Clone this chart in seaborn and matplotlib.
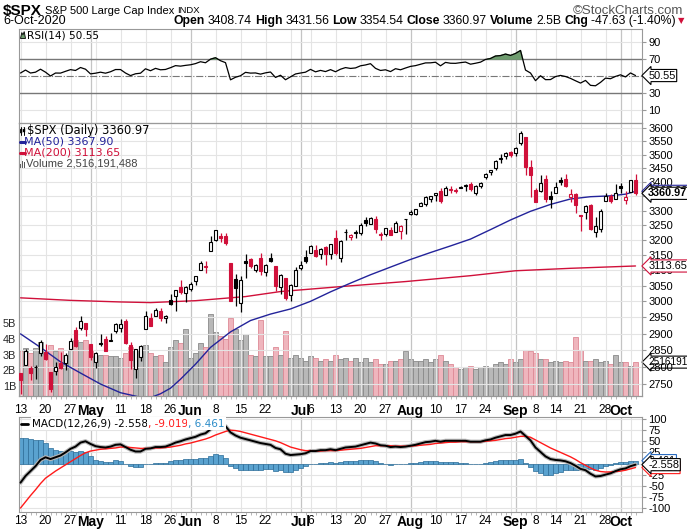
import numpy as np
import pandas as pd
import matplotlib
matplotlib.use("Agg")
import matplotlib.pyplot as plt
import seaborn as sns
from matplotlib import font_manager
from matplotlib.lines import Line2D
from matplotlib.patches import Polygon, Rectangle
from matplotlib.ticker import NullLocator, FixedLocator, FixedFormatter

sns.set_theme(style="white")
plt.rcParams['font.family'] = ['Liberation Sans', 'DejaVu Sans']

try:
    font_manager.findfont('Liberation Sans Narrow', fallback_to_default=False)
    NARROW = ['Liberation Sans Narrow', 'Liberation Sans']
    HAS_NARROW = True
except Exception:
    NARROW = ['Liberation Sans', 'DejaVu Sans']
    HAS_NARROW = False

# ---------------- data ----------------
prev_close = 2789.82
opens = [2782.46, 2805.10, 2795.64, 2799.34, 2842.43, 2845.62, 2784.81, 2787.89, 2810.42, 2812.64, 2854.65, 2909.96, 2918.46, 2930.91,
         2869.09, 2815.01, 2868.88, 2883.14, 2878.26, 2908.83, 2915.46, 2939.50, 2865.86, 2794.54, 2829.95, 2913.86, 2948.59, 2953.63, 2969.95, 2948.05, 3004.08, 3015.65, 3046.61, 3025.17,
         3038.78, 3064.78, 3098.90, 3111.56, 3163.84, 3199.92, 3213.32, 3213.42, 3123.53, 3071.04, 2993.76, 3131.00, 3136.13, 3101.64, 3140.29, 3094.42, 3138.70, 3114.40, 3046.60, 3073.20, 3018.59, 3050.20,
         3105.92, 3143.64, 3155.29, 3166.44, 3153.07, 3176.17, 3152.47, 3205.08, 3141.11, 3225.98, 3208.36, 3224.21, 3224.29, 3268.52, 3254.86, 3271.64, 3218.58, 3219.84, 3234.27, 3227.22, 3231.76, 3270.45,
         3288.26, 3289.92, 3317.37, 3323.17, 3340.05, 3356.04, 3370.34, 3355.46, 3372.95, 3368.66, 3380.86, 3387.04, 3392.51, 3360.48, 3386.01, 3418.09, 3435.95, 3449.97, 3485.14, 3494.69, 3509.73,
         3507.44, 3543.76, 3564.74, 3453.60, 3371.88, 3369.82, 3412.56, 3352.70, 3363.56, 3407.73, 3411.23, 3346.86, 3357.38, 3285.57, 3295.75, 3320.11, 3226.14, 3236.66, 3333.90, 3350.92, 3341.21,
         3385.87, 3338.94, 3367.27, 3408.74]
highs = [2782.46, 2851.85, 2801.88, 2806.51, 2879.22, 2868.98, 2785.54, 2815.10, 2844.90, 2842.71, 2887.72, 2921.15, 2954.86, 2930.91,
         2869.09, 2844.24, 2898.23, 2891.11, 2901.92, 2932.16, 2944.25, 2945.82, 2874.14, 2852.80, 2865.01, 2968.09, 2964.21, 2980.29, 2978.50, 2956.76, 3021.72, 3036.25, 3068.67, 3049.17,
         3062.18, 3081.07, 3130.94, 3128.91, 3211.72, 3233.13, 3222.71, 3223.27, 3123.53, 3088.42, 3079.76, 3153.45, 3141.16, 3120.00, 3155.53, 3120.92, 3154.90, 3115.01, 3086.25, 3073.73, 3053.89, 3111.51,
         3128.44, 3165.81, 3182.59, 3184.15, 3171.80, 3179.78, 3186.82, 3235.32, 3200.95, 3238.28, 3220.39, 3233.52, 3258.61, 3277.29, 3279.32, 3279.99, 3227.26, 3241.43, 3243.72, 3264.74, 3250.92, 3272.17,
         3302.73, 3306.84, 3330.77, 3351.03, 3352.54, 3363.29, 3381.01, 3387.89, 3387.24, 3378.51, 3387.59, 3395.06, 3399.54, 3390.80, 3399.96, 3432.09, 3444.21, 3481.07, 3501.38, 3509.23, 3514.77,
         3528.03, 3588.11, 3564.85, 3479.15, 3379.97, 3424.77, 3425.55, 3368.95, 3402.93, 3419.48, 3428.92, 3375.17, 3362.27, 3285.57, 3320.31, 3323.35, 3278.70, 3306.88, 3360.74, 3357.92, 3393.56,
         3397.18, 3369.10, 3409.57, 3431.56]
lows = [2721.17, 2805.10, 2761.54, 2764.32, 2830.88, 2820.43, 2727.10, 2775.95, 2794.26, 2791.76, 2852.89, 2860.71, 2912.16, 2892.47,
        2821.61, 2797.85, 2863.55, 2847.65, 2876.48, 2902.88, 2903.44, 2869.59, 2793.15, 2766.64, 2816.78, 2913.86, 2922.35, 2953.63, 2938.57, 2933.59, 2988.17, 2969.75, 3023.40, 2998.61,
        3031.54, 3051.64, 3098.90, 3090.41, 3163.84, 3196.00, 3193.11, 3181.49, 2999.49, 2984.47, 2965.66, 3076.06, 3108.03, 3093.51, 3083.11, 3079.39, 3127.12, 3032.13, 3024.01, 3004.63, 2999.74, 3047.83,
        3101.17, 3124.52, 3155.29, 3142.93, 3136.53, 3115.70, 3136.22, 3149.43, 3127.66, 3200.76, 3198.59, 3205.65, 3215.16, 3247.77, 3253.10, 3222.66, 3200.05, 3214.25, 3216.17, 3227.22, 3204.13, 3220.26,
        3284.53, 3286.37, 3317.37, 3318.14, 3328.72, 3335.44, 3326.44, 3355.46, 3363.35, 3361.64, 3379.22, 3370.15, 3369.66, 3354.69, 3379.31, 3413.13, 3425.84, 3444.15, 3468.35, 3484.32, 3493.25,
        3494.60, 3535.23, 3427.41, 3349.63, 3329.27, 3366.84, 3329.25, 3310.47, 3363.56, 3389.25, 3384.45, 3328.82, 3292.40, 3229.10, 3270.95, 3232.57, 3209.45, 3228.44, 3332.91, 3327.54, 3340.47,
        3361.39, 3323.69, 3367.27, 3354.54]
closes = [2761.63, 2846.06, 2783.36, 2799.55, 2874.56, 2823.16, 2736.56, 2799.31, 2797.80, 2836.74, 2878.48, 2863.39, 2939.51, 2912.43,
          2830.71, 2842.74, 2868.44, 2848.42, 2881.19, 2929.80, 2930.32, 2870.12, 2820.00, 2852.50, 2863.70, 2953.91, 2922.94, 2971.61, 2948.51, 2955.45, 2991.77, 3036.13, 3029.73, 3044.31,
          3055.73, 3080.82, 3122.87, 3112.35, 3193.93, 3232.39, 3207.18, 3190.14, 3002.10, 3041.31, 3066.59, 3124.74, 3113.49, 3115.34, 3097.74, 3117.86, 3131.29, 3050.33, 3083.76, 3009.05, 3053.24, 3100.29,
          3115.86, 3130.01, 3179.72, 3145.32, 3169.94, 3152.05, 3185.04, 3155.22, 3197.52, 3226.56, 3215.57, 3224.73, 3251.84, 3257.30, 3276.02, 3235.66, 3215.63, 3239.41, 3218.44, 3258.44, 3246.22, 3271.12,
          3294.61, 3306.51, 3327.77, 3349.16, 3351.28, 3360.47, 3333.69, 3380.35, 3373.43, 3372.85, 3381.99, 3389.78, 3374.85, 3385.51, 3397.16, 3431.28, 3443.62, 3478.73, 3484.55, 3508.01, 3500.31,
          3526.65, 3580.84, 3455.06, 3426.96, 3331.84, 3398.96, 3339.19, 3340.97, 3383.54, 3401.20, 3385.49, 3357.01, 3319.47, 3281.06, 3315.57, 3236.92, 3246.59, 3298.46, 3351.60, 3335.47, 3363.00,
          3380.80, 3348.42, 3408.63, 3360.97]
volume_b = [3.2, 3.4, 3.1, 3.4, 3.8, 3.0, 3.6, 3.2, 3.4, 3.0, 3.3, 3.9, 3.8, 3.9,
            3.3, 2.9, 3.0, 3.0, 2.9, 2.9, 2.8, 3.1, 3.5, 3.3, 3.1, 3.6, 3.1, 2.9, 3.0, 2.5, 3.5, 3.9, 3.7, 4.6,
            2.8, 3.1, 3.7, 3.5, 5.6, 4.4, 4.2, 4.0, 5.3, 4.6, 3.9, 4.3, 3.0, 2.9, 5.2, 2.9, 2.9, 3.5, 3.0, 4.5, 2.8, 3.0,
            2.8, 2.6, 2.9, 2.8, 2.6, 2.7, 2.6, 3.0, 2.7, 2.8, 2.6, 2.8, 2.5, 2.8, 2.5, 2.7, 2.4, 2.4, 2.6, 2.6, 2.7, 3.2,
            2.7, 2.6, 2.6, 2.7, 2.5, 2.7, 3.0, 2.6, 2.4, 2.2, 2.1, 2.2, 2.3, 2.1, 2.2, 2.3, 2.2, 2.4, 2.5, 2.4, 2.7,
            2.5, 2.7, 3.3, 3.2, 3.1, 2.7, 2.7, 2.5, 2.6, 2.5, 2.6, 2.5, 4.1, 3.3, 2.6, 2.6, 2.7, 2.5, 2.6, 2.4, 3.0,
            2.5, 2.5, 2.3, 2.516]
ma50_pos = [0, 4, 8, 12, 16, 20, 24, 26, 28, 30, 32, 35, 38, 42, 46, 50, 54, 58, 62, 66, 70, 74, 78, 82, 86, 90, 94, 98, 102, 106, 110, 114, 118, 121, 123]
ma50_val = [2899, 2858, 2815, 2782, 2750, 2725, 2712, 2711, 2722, 2738, 2764, 2808, 2858, 2905, 2940, 2960, 2976, 3000, 3030, 3058,
            3085, 3110, 3135, 3158, 3180, 3203, 3235, 3268, 3298, 3322, 3341, 3349, 3352, 3358, 3367.90]
ma200_pos = [0, 10, 20, 26, 35, 45, 52, 65, 77, 90, 99, 110, 123]
ma200_val = [3011, 3003, 2998, 2996, 3002, 3015, 3031, 3048, 3063, 3082, 3098, 3106, 3113.65]
rsi = [53.5, 57, 53.5, 54.5, 58, 54.5, 50, 53.5, 53.4, 55.5, 57.5, 56.5, 60, 58,
       52.5, 53.3, 54.5, 53.3, 55, 57.6, 57.6, 53.5, 50.5, 52.6, 53.3, 58.5, 56.2, 59, 57.3, 57.7, 59.8, 62.2, 61.6, 62.5,
       63.2, 64.6, 66.8, 65.6, 69.8, 71.5, 68, 65.7, 45.5, 48.5, 50.3, 54.3, 53.4, 53.6, 52.2, 53.7, 54.7, 48.3, 50.9, 45.6, 49, 52.4,
       53.5, 54.5, 57.8, 54.9, 56.6, 55.2, 57.5, 55, 58, 59.9, 58.9, 59.5, 62, 63, 64.5, 59, 56.5, 57.3, 55.2, 58.6, 57.3, 59.4,
       61.3, 62.2, 63.8, 65.4, 65.5, 66.2, 62, 66, 65, 64.9, 65.7, 66.4, 63.9, 65, 66.3, 69.5, 70.6, 73.5, 74, 75.8, 74.2,
       76.5, 80, 57, 53.5, 44.5, 50.3, 45.7, 45.8, 49.3, 50.7, 49.4, 47.2, 44.4, 41.7, 44.8, 39, 38.5, 42.5, 47.5, 46.8, 49.5,
       51.4, 48.9, 53.6, 50.55]
macd = [-43, -28, -17, -6, 8, 14, 10, 14, 18, 25, 33, 38, 47, 50,
        44, 39, 37, 36, 38, 42, 43, 37, 31, 27, 27, 33, 34, 37, 37, 38, 42, 47, 50, 54,
        57, 60, 65, 68, 77, 85, 87, 84, 70, 63, 58, 55, 52, 49, 46, 44, 42, 35, 32, 22, 19, 20,
        21, 23, 28, 28, 30, 30, 32, 30, 33, 36, 37, 38, 41, 44, 47, 45, 41, 40, 37, 38, 37, 38,
        40, 42, 45, 48, 49, 51, 49, 51, 51, 51, 51, 51, 49, 49, 49, 52, 54, 58, 61, 64, 64,
        67, 72, 62, 52, 36, 26, 16, 10, 8, 7, 5, 1, -5, -12, -15, -23, -29, -28, -25, -22, -17,
        -13, -11, -6, -2.558]
signal = [-100, -86, -72, -59, -45, -33, -25, -17, -10, -3, 4, 11, 18, 24,
          28, 30, 32, 33, 34, 35, 37, 37, 36, 35, 34, 34, 34, 35, 35, 36, 37, 39, 41, 44,
          46, 49, 52, 55, 59, 64, 68, 72, 75, 74, 72, 69, 66, 63, 60, 57, 54, 51, 47, 42, 37, 34,
          31, 29, 29, 28, 28, 29, 29, 29, 30, 31, 32, 33, 34, 36, 38, 40, 40, 40, 40, 39, 39, 39,
          39, 40, 41, 42, 43, 45, 46, 47, 48, 48, 49, 49, 49, 49, 49, 50, 51, 52, 54, 56, 57,
          59, 61, 61, 59, 53, 47, 41, 35, 30, 25, 20, 15, 9, 2, -4, -10, -15, -18, -19, -19, -18,
          -17, -15, -12, -9.019]
hist = [57, 58, 55, 53, 53, 47, 35, 31, 28, 28, 29, 27, 29, 26,
        16, 9, 5, 3, 4, 7, 6, 0, -5, -8, -7, -1, 0, 2, 2, 2, 5, 8, 9, 10,
        11, 11, 13, 13, 18, 21, 19, 12, -5, -11, -14, -14, -14, -14, -14, -13, -12, -16, -15, -20, -18, -14,
        -10, -6, -1, 0, 2, 1, 3, 1, 3, 5, 5, 5, 7, 8, 9, 5, 1, 0, -3, -1, -2, -1,
        1, 2, 4, 6, 6, 6, 3, 4, 3, 3, 2, 2, 0, 0, 0, 2, 3, 6, 7, 8, 7,
        8, 11, 1, -7, -17, -21, -25, -25, -22, -18, -15, -14, -14, -14, -11, -13, -14, -10, -6, -3, 1,
        4, 4, 6, 6.461]
tick_pos = [0, 5, 10, 14, 20, 25, 30, 34, 39, 44, 49, 56, 58, 63, 68, 73, 78, 83, 88, 93, 99, 103, 107, 112, 117, 120]
tick_lab = ['13', '20', '27', 'May', '11', '18', '26', 'Jun', '8', '15', '22', 'Jul', '6', '13', '20', '27',
            'Aug', '10', '17', '24', 'Sep', '8', '14', '21', '28', 'Oct']
week_lines = [0, 5, 10, 15, 20, 25, 30, 39, 44, 49, 54, 58, 63, 68, 73, 83, 88, 93, 98, 103, 107, 112, 117, 122]
month_lines = [14, 34, 56, 78, 99, 120]

# ---------------- layout ----------------
W, H = 687, 529
fig = plt.figure(figsize=(W / 100, H / 100), dpi=100)
fig.patch.set_facecolor('white')


def rect(l, t, r, b):
    return [l / W, 1 - b / H, (r - l) / W, (b - t) / H]


ax_rsi = fig.add_axes(rect(19, 29, 642, 123))
ax_main = fig.add_axes(rect(19, 123, 642, 396))
ax_vol = ax_main.twinx()
ax_main.set_zorder(ax_vol.get_zorder() + 1)
ax_main.patch.set_visible(False)
ax_macd = fig.add_axes(rect(19, 417, 642, 512))

n = len(closes)
idx = np.arange(n)
XL = (-0.3, 124.3)
RED = '#d0103a'
BLUE = '#23239a'
GRID = '#e4e4e4'
MGRID = '#c4c4c4'
SPINE = '#999999'

df = pd.DataFrame({'i': idx, 'rsi': rsi, 'macd': macd, 'signal': signal, 'hist': hist,
                   'vol': np.array(volume_b) * 1e9})
prevs = np.array([prev_close] + closes[:-1])
up = np.array(closes) >= prevs

for ax in (ax_rsi, ax_main, ax_macd, ax_vol):
    ax.set_xlim(*XL)
    for s in ax.spines.values():
        s.set_color(SPINE)
        s.set_linewidth(0.8)

for ax in (ax_rsi, ax_main, ax_macd):
    for p in week_lines:
        ax.axvline(p, color=GRID, lw=0.8, zorder=0)
    for p in month_lines:
        ax.axvline(p, color=MGRID, lw=0.9, zorder=0)

# ---------------- RSI ----------------
ax_rsi.set_ylim(-5.3, 105.3)
for v in (10, 90):
    ax_rsi.axhline(v, color=GRID, lw=0.8, zorder=0)
ax_rsi.axhline(70, color='#777777', lw=1.0, zorder=1)
ax_rsi.axhline(30, color='#777777', lw=1.0, zorder=1)
ax_rsi.axhline(50, color='#777777', lw=0.8, ls='-.', zorder=1)
r = np.array(rsi)
ax_rsi.fill_between(idx, r, 70, where=r > 70, interpolate=True, color='#6e9c6e', zorder=2)
sns.lineplot(data=df, x='i', y='rsi', ax=ax_rsi, color='black', lw=0.9, zorder=3)
ax_rsi.yaxis.tick_right()
ax_rsi.set_yticks([10, 30, 70, 90])
ax_rsi.set_yticklabels(['10', '30', '70', '90'])
ax_rsi.set_xticks([])

# ---------------- main ----------------
ax_main.set_yscale('log')
ax_main.set_ylim(2715.6, 3619)
pticks = list(range(2750, 3601, 50))
ax_main.yaxis.set_major_locator(FixedLocator(pticks))
ax_main.yaxis.set_major_formatter(FixedFormatter([str(p) for p in pticks]))
ax_main.yaxis.set_minor_locator(NullLocator())
for p in pticks:
    ax_main.axhline(p, color=GRID, lw=0.8, zorder=0)
ax_main.yaxis.tick_right()

# volume
ax_vol.set_ylim(0.365e9, 17.7e9)
vcol = np.where(up, '#b8b8b8', '#efb5bd')
vedge = np.where(up, '#8a8a8a', '#dd8a96')
ax_vol.bar(idx, df['vol'], width=0.82, color=vcol, edgecolor=vedge, linewidth=0.6, zorder=1)
ax_vol.yaxis.tick_left()
ax_vol.set_yticks([1e9, 2e9, 3e9, 4e9, 5e9])
ax_vol.set_yticklabels(['1B', '2B', '3B', '4B', '5B'])
ax_vol.tick_params(axis='y', length=0, pad=2, labelsize=7.8)
ax_vol.set_ylabel('')

# moving averages
dma50 = pd.DataFrame({'i': ma50_pos, 'v': ma50_val})
dma200 = pd.DataFrame({'i': ma200_pos, 'v': ma200_val})
sns.lineplot(data=dma200, x='i', y='v', ax=ax_main, color=RED, lw=1.0, zorder=2)
sns.lineplot(data=dma50, x='i', y='v', ax=ax_main, color=BLUE, lw=1.0, zorder=2)

# candles
o = np.array(opens); c = np.array(closes); hh = np.array(highs); ll = np.array(lows)
ccol = np.where(up, 'black', RED)
ax_main.vlines(idx, ll, hh, colors=ccol, lw=0.9, zorder=3)
bot = np.minimum(o, c)
top = np.maximum(o, c)
top = np.maximum(top, bot * 1.0006)
hollow = c >= o
face = [('white' if hol else col) for hol, col in zip(hollow, ccol)]
ax_main.bar(idx, top - bot, bottom=bot, width=0.74, color=face, edgecolor=ccol, linewidth=0.8, zorder=4)

# ---------------- MACD ----------------
ax_macd.set_ylim(-108.9, 104.5)
mt = [-100, -75, -50, -25, 0, 25, 50, 75, 100]
for v in mt:
    ax_macd.axhline(v, color=GRID, lw=0.8, zorder=0)
ax_macd.bar(idx, df['hist'], width=0.9, color='#5aa2cf', edgecolor='#2b6c98', linewidth=0.5, zorder=1)
ax_macd.plot(idx, macd, color='#b5b5b5', lw=3.0, zorder=2, solid_capstyle='round')
sns.lineplot(data=df, x='i', y='signal', ax=ax_macd, color='#ff1a1a', lw=1.0, zorder=3)
sns.lineplot(data=df, x='i', y='macd', ax=ax_macd, color='black', lw=1.4, zorder=4)
ax_macd.yaxis.tick_right()
ax_macd.set_yticks(mt)
ax_macd.set_yticklabels([str(v) for v in mt])

for ax in (ax_rsi, ax_main, ax_macd, ax_vol):
    ax.set_xlabel('')
for ax in (ax_rsi, ax_main, ax_macd):
    ax.set_ylabel('')
    ax.tick_params(axis='y', which='major', length=3, width=0.8, color=SPINE, pad=1.5, labelsize=8,
                   labelcolor='black')

for ax, pad in ((ax_main, 6.0), (ax_macd, 2.0)):
    ax.set_xticks(tick_pos)
    ax.set_xticklabels(tick_lab)
    ax.set_xticks(idx, minor=True)
    ax.tick_params(axis='x', which='major', length=0, pad=pad, labelsize=8.6, labelcolor='black')
    ax.tick_params(axis='x', which='minor', length=2, width=0.6, color='#aaaaaa', bottom=True)
    for lab in ax.get_xticklabels():
        if lab.get_text() in ('May', 'Jun', 'Jul', 'Aug', 'Sep', 'Oct'):
            lab.set_fontweight('bold')
            lab.set_fontsize(10)
ax_vol.tick_params(axis='x', which='both', length=0, labelbottom=False)

# ---------------- right-side value tags ----------------
def tag(ax, val, txt, ec, bold=False, z=10, fs=7.8):
    ax.annotate(txt, xy=(1, val), xycoords=('axes fraction', 'data'), xytext=(4.5, 0),
                textcoords='offset points', ha='left', va='center', fontsize=fs,
                fontweight='bold' if bold else 'normal', color='black', zorder=z,
                annotation_clip=False,
                bbox=dict(boxstyle='larrow,pad=0.1', fc='white', ec=ec, lw=0.8))

tag(ax_rsi, 50.55, '50.55', 'black')
tag(ax_main, 3367.90, '3367.90', BLUE)
tag(ax_main, 3360.97, '3360.97', 'black', bold=True, z=11)
tag(ax_main, 3113.65, '3113.65', RED)
tag(ax_vol, 2.516e9, '2516191', 'black', fs=7.2)
tag(ax_macd, 6.461, '6.461', '#2b6cc0')
tag(ax_macd, -9.019, '-9.019', '#ff1a1a')
tag(ax_macd, -2.558, '-2.558', 'black', z=11)

# ---------------- legends ----------------
LF = ['DejaVu Sans']
def ftext(x, y, s, **kw):
    return fig.text(x / W, 1 - y / H, s, va='center', ha='left', **kw)

def dash(x1, x2, y, color, lw=2.2):
    fig.add_artist(Line2D([x1 / W, x2 / W], [1 - y / H, 1 - y / H], color=color, lw=lw))

def fx(x):
    return x / W

def fy(y):
    return 1 - y / H

# icons
fig.add_artist(Polygon([(fx(20.5), fy(38.5)), (fx(21.8), fy(32.5)), (fx(23), fy(35)), (fx(24.2), fy(31.5)),
                        (fx(25.5), fy(38.5))], closed=True, fc='#6e9c6e', ec='black', lw=0.6))
for xx, y1, y2, b1, b2 in ((21.3, 126.5, 135, 128.5, 133), (24.2, 127, 134.5, 128, 132)):
    fig.add_artist(Line2D([fx(xx), fx(xx)], [fy(y1), fy(y2)], color='black', lw=0.7))
    fig.add_artist(Rectangle((fx(xx - 0.9), fy(b2)), 1.8 / W, (b2 - b1) / H, fc='black', ec='black', lw=0.3))
for xx, hgt in ((20.8, 4), (22.6, 7), (24.4, 5.5)):
    fig.add_artist(Rectangle((fx(xx - 0.7), fy(167.5)), 1.4 / W, hgt / H, fc='#555555', ec='none'))

ftext(26.8, 35.5, 'RSI(14) 50.55', fontsize=7.6, color='black', family=LF)
ftext(27.3, 130.5, '$SPX (Daily) 3360.97', fontsize=8.3, color='black', family=LF)
dash(20, 24.5, 141.7, BLUE)
ftext(24.5, 141.7, 'MA(50) 3367.90', fontsize=8, color=BLUE, family=LF)
dash(20, 24.5, 152.5, RED)
ftext(24.5, 152.5, 'MA(200) 3113.65', fontsize=8, color=RED, family=LF)
ftext(26.5, 163.3, 'Volume 2,516,191,488', fontsize=8, color='#444444')

renderer = fig.canvas.get_renderer()
def seq(x, y, pieces, ha='left', gap=0):
    objs = []
    for s, kw in pieces:
        t = fig.text(0, 1 - y / H, s, va='center', ha='left', **kw)
        objs.append(t)
    ws = [t.get_window_extent(renderer).width for t in objs]
    total = sum(ws) + gap * (len(ws) - 1)
    cx = x - total if ha == 'right' else x
    for t, w in zip(objs, ws):
        t.set_x(cx / W)
        cx += w + gap
    return objs

dash(21, 28, 423.5, 'black', lw=2)
seq(32, 423.5, [('MACD(12,26,9) -2.558', dict(fontsize=7.5, color='black', family=LF,
                                             bbox=dict(fc='white', ec='none', pad=1.0))),
                (', -9.019', dict(fontsize=7.5, color='#ff1a1a', family=LF,
                                  bbox=dict(fc='white', ec='none', pad=1.0))),
                (', 6.461', dict(fontsize=7.5, color='#2b8cc8', family=LF,
                                 bbox=dict(fc='white', ec='none', pad=1.0)))])

# ---------------- header ----------------
if HAS_NARROW:
    spx_kw = dict(fontsize=13, fontweight='bold', color='black', family=NARROW)
    name_kw = dict(fontsize=9.5, color='black', family=NARROW)
    indx_kw = dict(fontsize=8, color='black', family=NARROW)
    brand_kw = dict(fontsize=10.5, color='#555555', family=NARROW)
    hfs = 9.8
else:
    spx_kw = dict(fontsize=11, fontweight='bold', color='black')
    name_kw = dict(fontsize=8, color='black')
    indx_kw = dict(fontsize=6.8, color='black')
    brand_kw = dict(fontsize=9.5, color='#555555')
    hfs = 8.8
seq(3, 10.5, [('$SPX', spx_kw), ('S&P 500 Large Cap Index', name_kw), ('INDX', indx_kw)], gap=3)
fig.text(683 / W, 1 - 10.5 / H, '\u00a9StockCharts.com', ha='right', va='center', **brand_kw)
fig.text(3 / W, 1 - 21 / H, '6-Oct-2020', ha='left', va='center', fontsize=hfs if HAS_NARROW else 9,
         color='black', family=NARROW)
B = dict(fontsize=hfs, fontweight='bold', color='black', family=NARROW)
N = dict(fontsize=hfs, color='black', family=NARROW)
seq(676, 21, [('Open', B), ('3408.74', N), ('High', B), ('3431.56', N), ('Low', B), ('3354.54', N),
              ('Close', B), ('3360.97', N), ('Volume', B), ('2.5B', N), ('Chg', B), ('-47.63 (-1.40%)', N)],
    ha='right', gap=3)
fig.text(684 / W, 1 - 21 / H, '\u25bc', ha='right', va='center', fontsize=6, color=RED, family=LF)

fig.savefig('out.png', dpi=100, facecolor='white')
